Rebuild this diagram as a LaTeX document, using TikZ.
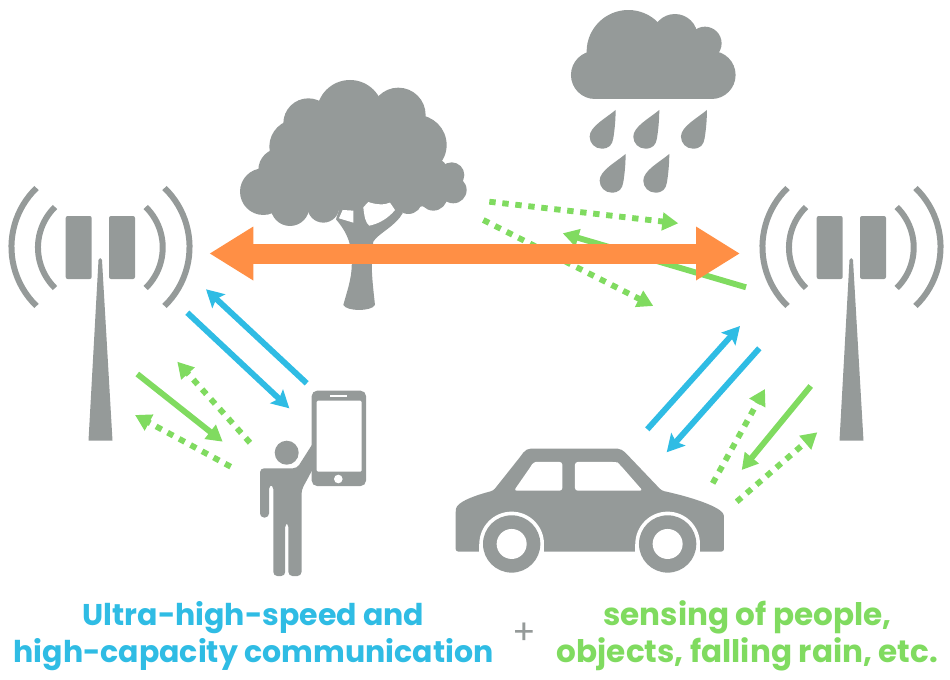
\documentclass[tikz,border=0pt]{standalone}
\usepackage{fontspec}
\setmainfont{Poppins}
\usetikzlibrary{arrows.meta}

\definecolor{iconGray}{HTML}{959A99}
\definecolor{beamOrange}{HTML}{FF8F45}
\definecolor{commBlue}{HTML}{2FBCE4}
\definecolor{senseGreen}{HTML}{80DB60}

\tikzset{
	icon/.style={fill=iconGray, draw=none},
	hole/.style={fill=white, draw=none},
	wave/.style={draw=iconGray, line width=4.5pt},
	beam/.style={draw=beamOrange, line width=15pt, {Triangle[length=33pt,width=38pt]}-{Triangle[length=33pt,width=38pt]}},
	commline/.style={draw=commBlue, line width=4.4pt, -{Stealth[length=13pt,width=14pt,inset=2.5pt]}},
	senseline/.style={draw=senseGreen, line width=4.4pt, -{Triangle[length=12pt,width=13pt]}},
	sensedots/.style={draw=senseGreen, line width=4.4pt, dash pattern=on 4.8pt off 5pt, -{Triangle[length=12pt,width=13pt]}},
	caption/.style={font=\fontsize{22.5}{27.7}\selectfont\bfseries, align=center}
}

\begin{document}
\begin{tikzpicture}[x=0.75pt, y=-0.75pt]
	\useasboundingbox (0,0) rectangle (950,679);

	% towers
	\foreach \dx in {0,751} {
		\begin{scope}[shift={(\dx,0)}]
			\fill[icon, rounded corners=1.5pt] (65.7,216) rectangle (91.7,279);
			\fill[icon, rounded corners=1.5pt] (109,216) rectangle (135,279);
			\fill[icon] (98.5,260) -- (100.2,258) -- (102,260) -- (112.5,440.7) -- (88.5,440.7) -- cycle;
			\draw[wave] (36.5,188) arc (226:134:82);
			\draw[wave] (55,207) arc (225.6:134.4:56.7);
			\draw[wave] (164.5,188) arc (-46:46:82);
			\draw[wave] (145.7,207) arc (-45.6:45.6:56.7);
		\end{scope}
	}

	% tree
	\begin{scope}[shift={(230,0)}, scale=0.3333]
		\foreach \cx/\cy/\r in {360/340/100, 235/370/75, 505/345/82, 200/440/82, 560/435/90, 150/510/65,
				100/575/70, 180/620/58, 280/620/48, 360/480/140, 450/560/53, 535/600/42, 610/590/42,
				650/555/50, 665/525/38, 670/570/40, 600/530/60, 240/540/90, 260/580/60, 400/520/90,
				510/530/75, 340/590/40, 490/570/50, 570/570/50} {
			\fill[icon] (\cx,\cy) circle (\r);
		}
		\fill[icon] (340,915) .. controls (355,860) and (368,830) .. (365,770) .. controls (362,720) and (345,690) .. (318,658)
			-- (340,590) -- (500,600) -- (518,640) .. controls (495,680) and (445,700) .. (430,725)
			.. controls (420,790) and (428,850) .. (435,915) .. controls (425,935) and (350,935) .. (340,915) -- cycle;
		\fill[hole] (327,655) -- (338,630) -- (370,632) -- (370,668) -- cycle;
		\fill[hole] (400,622) -- (415,606) .. controls (440,615) and (465,615) .. (480,608) -- (495,630)
			.. controls (475,655) and (445,672) .. (418,677) .. controls (407,670) and (403,650) .. (400,622) -- cycle;
	\end{scope}

	% cloud and rain
	\begin{scope}[shift={(230,0)}, scale=0.3333]
		\fill[icon] (1095,225) circle (72);
		\fill[icon] (1445,225) circle (72);
		\fill[icon] (1195,155) circle (125);
		\fill[icon] (1335,110) circle (68);
		\fill[icon] (1425,130) circle (50);
		\fill[icon] (1095,150) rectangle (1445,297);
		\foreach \tx/\ty in {1157/330, 1288/330, 1431/330, 1187/462, 1318/462} {
			\fill[icon, shift={(\tx,\ty)}] (0,0) .. controls (-30,25) and (-78,50) .. (-78,80)
				.. controls (-78,100) and (-62,116) .. (-42,116) .. controls (-20,116) and (-10,105) .. (-7,85)
				.. controls (-3,60) and (0,30) .. (0,0) -- cycle;
		}
	\end{scope}

	% person with phone
	\fill[icon] (286.7,452.7) circle (12);
	\fill[icon, rounded corners=3pt] (260,468.3) -- (260,517.5) -- (269,517.5) -- (269,485) -- (273.3,485)
		-- (273.3,576) -- (285.2,576) -- (285.2,523) -- (288.4,523) -- (288.4,576) -- (301.5,576)
		-- (301.5,490) -- (315,465) -- (315,440) -- (297,468.3) -- cycle;
	\fill[icon, rounded corners=4pt] (311.7,390.7) rectangle (366,486);
	\fill[hole, rounded corners=1pt] (316.7,400.7) rectangle (361.7,471.7);
	\fill[hole] (330,395.4) rectangle (346.7,396.6);
	\fill[hole] (338.3,479) circle (4.3);

	% car
	\begin{scope}[shift={(440,170)}, scale=0.3333]
		\fill[icon, rounded corners=2pt] (47,1145) -- (47,1025) .. controls (50,995) and (110,975) .. (160,962)
			-- (245,855) .. controls (255,840) and (265,836) .. (280,836) -- (525,836) .. controls (540,836) and (550,842) .. (560,852)
			-- (665,962) .. controls (740,978) and (850,1010) .. (852,1045) -- (852,1145) -- cycle;
		\fill[hole, rounded corners=2pt] (222,962) -- (272,890) .. controls (278,880) and (285,876) .. (295,876) -- (367,876)
			-- (367,962) -- cycle;
		\fill[hole, rounded corners=2pt] (405,876) -- (525,876) .. controls (535,878) and (540,885) .. (545,890)
			-- (608,962) -- (405,962) -- cycle;
		\foreach \wx in {215,683} {
			\fill[hole] (\wx,1122) circle (97);
			\fill[hole] (\wx-97,1122) rectangle (\wx+97,1150);
			\fill[icon] (\wx,1122) circle (86);
			\fill[hole] (\wx,1122) circle (45);
		}
	\end{scope}

	% connector ends
	\coordinate (leftbeam) at (209.3,253.5);
	\coordinate (rightbeam) at (740,253.5);

	\coordinate (phoneup) at (306.7,383.3);
	\coordinate (towerup) at (206,289.3);
	\coordinate (towerdown) at (187.3,312.7);
	\coordinate (phonedown) at (289.3,408.3);
	\coordinate (personin) at (222.7,441.7);
	\coordinate (towersense) at (137.3,374);
	\coordinate (persona) at (250,442.7);
	\coordinate (echoa) at (177.3,361.7);
	\coordinate (personb) at (230.7,466.7);
	\coordinate (echob) at (135,415);

	\coordinate (treea) at (489.3,201.7);
	\coordinate (echoc) at (678.3,223.3);
	\coordinate (treeb) at (483.3,220);
	\coordinate (echod) at (653.3,306);
	\coordinate (rainout) at (746,287.3);
	\coordinate (rainin) at (562.7,233.3);

	\coordinate (carup) at (647.3,429.3);
	\coordinate (towerc) at (740,326);
	\coordinate (towerd) at (759.3,348.3);
	\coordinate (cardown) at (666.7,452.3);
	\coordinate (towere) at (810.7,386);
	\coordinate (carin) at (741.7,470);
	\coordinate (cara) at (712.7,483.3);
	\coordinate (echoe) at (765,389);
	\coordinate (carb) at (736.7,501.7);
	\coordinate (echof) at (817.3,432.3);

	% sensing and communication arrows
	\draw[sensedots] (treea) -- (echoc);
	\draw[sensedots] (treeb) -- (echod);
	\draw[senseline] (rainout) -- (rainin);

	\draw[beam] (leftbeam) -- (rightbeam);

	\draw[commline] (phoneup) -- (towerup);
	\draw[commline] (towerdown) -- (phonedown);
	\draw[senseline] (towersense) -- (personin);
	\draw[sensedots] (persona) -- (echoa);
	\draw[sensedots] (personb) -- (echob);

	\draw[commline] (carup) -- (towerc);
	\draw[commline] (towerd) -- (cardown);
	\draw[senseline] (towere) -- (carin);
	\draw[sensedots] (cara) -- (echoe);
	\draw[sensedots] (carb) -- (echof);

	% captions
	\node[caption, text=commBlue] (commtext) at (253.5,636) {Ultra-high-speed and\\high-capacity communication};
	\node[text=iconGray, font=\fontsize{26}{28}\selectfont] (plussign) at (524,634) {+};
	\node[caption, text=senseGreen, font=\fontsize{23.3}{27.7}\selectfont\bfseries] (sensetext) at (747.5,636) {sensing of people,\\objects, falling rain, etc.};
\end{tikzpicture}
\end{document}
